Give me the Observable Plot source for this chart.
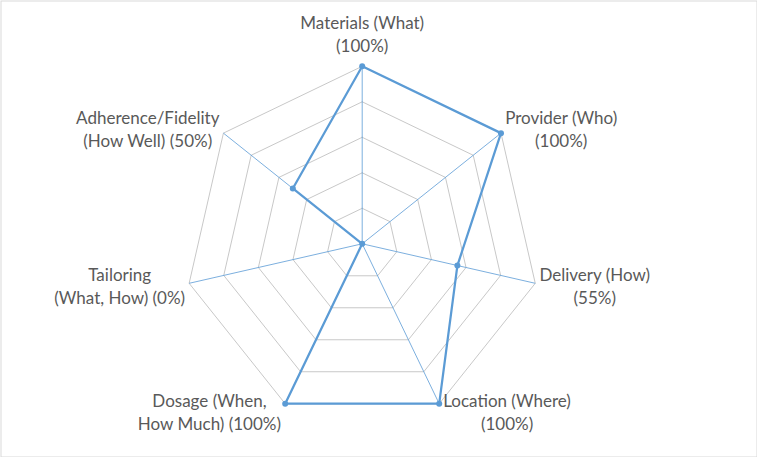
<!DOCTYPE html>
<html>
<head>
<meta charset="utf-8">
<script src="https://cdn.jsdelivr.net/npm/d3@7"></script>
<script src="https://cdn.jsdelivr.net/npm/@observablehq/plot@0.6"></script>
<style>
  html, body { margin: 0; padding: 0; background: #fff; }
  #chart svg { display: block; }
</style>
</head>
<body>
<div id="chart"></div>
<script>
// Intervention components, clockwise from the top ("\n" marks the wrap point)
const categories = [
  "Materials (What)",
  "Provider (Who)",
  "Delivery (How)",
  "Location (Where)",
  "Dosage (When,\nHow Much)",
  "Tailoring\n(What, How)",
  "Adherence/Fidelity\n(How Well)"
];
// Share of items reported per component (%)
const values = [100, 100, 55, 100, 100, 0, 50];
// Concentric grid rings (%)
const gridLevels = [20, 40, 60, 80, 100];

const W = 757, H = 457;
const centerX = 361.7, centerY = 243.3, radius = 177.5;
const fontSize = 17, lineGap = 23;
const font = `${fontSize}px Lato`;
const blue = "#5b9bd5";

const n = categories.length;
const ang = i => (2 * Math.PI * i) / n;
const polarX = (i, v) => Math.sin(ang(i)) * v / 100;
const polarY = (i, v) => Math.cos(ang(i)) * v / 100;

// Grid rings as closed polygons
const rings = gridLevels.flatMap(level =>
  d3.range(n + 1).map(k => ({level, x: polarX(k % n, level), y: polarY(k % n, level)}))
);

// Spokes from the centre to each full-scale vertex
const spokes = categories.map((c, i) => ({x1: 0, y1: 0, x2: polarX(i, 100), y2: polarY(i, 100)}));

// Series polygon
const series = categories.map((c, i) => ({category: c, value: values[i], x: polarX(i, values[i]), y: polarY(i, values[i])}));
const seriesClosed = [...series, series[0]];

// Category labels placed just outside each vertex
const ctx = document.createElement("canvas").getContext("2d");
ctx.font = font;
const pxUnit = 1 / radius;
const labels = categories.map((c, i) => {
  const text = c + (c.includes("\n") ? " " : "\n") + `(${values[i]}%)`;
  const lines = text.split("\n");
  const w = Math.max(...lines.map(l => ctx.measureText(l).width));
  const h = lines.length * lineGap;
  const s = Math.sin(ang(i)), co = Math.cos(ang(i));
  let x = polarX(i, 100), y = polarY(i, 100);
  if (Math.abs(s) < 0.1) {
    y += (h / 2 + 10) * pxUnit;
  } else {
    x += Math.sign(s) * (w / 2 + 4) * pxUnit;
    y += co * 8 * pxUnit;
  }
  return {text, x, y};
});

const chart = Plot.plot({
  width: W,
  height: H,
  margin: 0,
  style: {fontFamily: "Lato, sans-serif", background: "#fff"},
  x: {domain: [-1, 1], range: [centerX - radius, centerX + radius], axis: null},
  y: {domain: [-1, 1], range: [centerY + radius, centerY - radius], axis: null},
  marks: [
    Plot.frame({stroke: "#d9d9d9", inset: 0.5}),
    Plot.line(rings, {x: "x", y: "y", z: "level", stroke: "#c8c8c8", strokeWidth: 1}),
    Plot.link(spokes, {x1: "x1", y1: "y1", x2: "x2", y2: "y2", stroke: blue, strokeWidth: 0.8}),
    Plot.line(seriesClosed, {x: "x", y: "y", stroke: blue, strokeWidth: 2.25, strokeLinejoin: "round"}),
    Plot.dot(series, {x: "x", y: "y", r: 3, fill: blue, stroke: "none"}),
    Plot.text(labels, {
      x: "x", y: "y", text: "text",
      textAnchor: "middle", lineAnchor: "middle",
      lineHeight: lineGap / fontSize,
      fontSize, fill: "#595959"
    })
  ]
});

document.getElementById("chart").append(chart);
</script>
</body>
</html>
